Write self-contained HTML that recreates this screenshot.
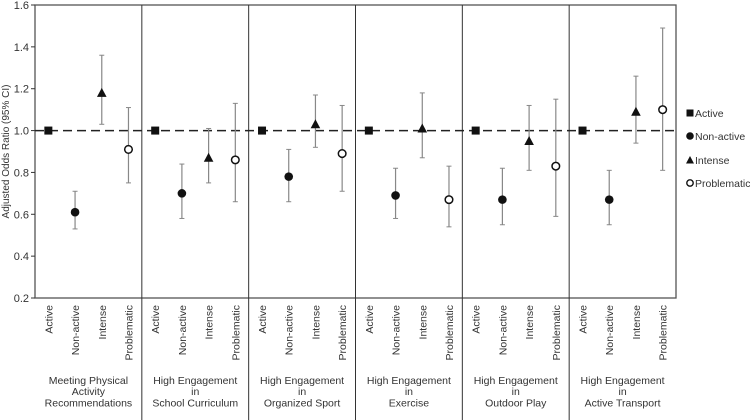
<!DOCTYPE html>
<html><head><meta charset="utf-8"><style>
body{margin:0;background:#fff;}
svg{display:block;font-family:"Liberation Sans",Arial,sans-serif;}
</style></head><body>
<svg id="chart" width="750" height="420" viewBox="0 0 750 420"></svg>
<script>
const groups=[["Meeting Physical","Activity","Recommendations"],["High Engagement","in","School Curriculum"],["High Engagement","in","Organized Sport"],["High Engagement","in","Exercise"],["High Engagement","in","Outdoor Play"],["High Engagement","in","Active Transport"]];
const categories=["Active","Non-active","Intense","Problematic"];
const activeOR=[1,1,1,1,1,1];
const nonActiveOR=[0.61,0.70,0.78,0.69,0.67,0.67];
const nonActiveLo=[0.53,0.58,0.66,0.58,0.55,0.55];
const nonActiveHi=[0.71,0.84,0.91,0.82,0.82,0.81];
const intenseOR=[1.18,0.87,1.03,1.01,0.95,1.09];
const intenseLo=[1.03,0.75,0.92,0.87,0.81,0.94];
const intenseHi=[1.36,1.01,1.17,1.18,1.12,1.26];
const probOR=[0.91,0.86,0.89,0.67,0.83,1.10];
const probLo=[0.75,0.66,0.71,0.54,0.59,0.81];
const probHi=[1.11,1.13,1.12,0.83,1.15,1.49];
const yTicks=[0.2,0.4,0.6,0.8,1.0,1.2,1.4,1.6];

const svg=document.getElementById('chart');
const NS='http://www.w3.org/2000/svg';
const L=35,R=676,T=5,B=298,yMin=0.2,yMax=1.6;
const gw=(R-L)/groups.length;
function y(v){return B-(v-yMin)/(yMax-yMin)*(B-T);}
function x(g,i){return L+g*gw+(i+0.5)*gw/4;}
function el(tag,attrs,parent){const e=document.createElementNS(NS,tag);for(const k in attrs)e.setAttribute(k,attrs[k]);(parent||svg).appendChild(e);return e;}
function txt(s,attrs){const t=el('text',attrs);t.textContent=s;return t;}

let f=el('rect',{x:L,y:T,width:R-L,height:B-T,fill:'none',stroke:'#555','stroke-width':1.3});

yTicks.forEach(v=>{
  let tk=el('line',{x1:L-4,x2:L,y1:y(v),y2:y(v),stroke:'#333'});
  
  let t=txt(v.toFixed(1),{x:L-6,y:y(v)+4,'text-anchor':'end','font-size':11,fill:'#333'});
  
});
let yt=txt('Adjusted Odds Ratio (95% CI)',{x:9,y:(T+B)/2,'text-anchor':'middle','font-size':10,fill:'#333',transform:`rotate(-90 9 ${(T+B)/2})`});

for(let g=1;g<groups.length;g++){
  let d=el('line',{x1:L+g*gw,x2:L+g*gw,y1:T,y2:420,stroke:'#333','stroke-width':1});
  
}
let rl=el('line',{x1:L,x2:R,y1:y(1),y2:y(1),stroke:'#222','stroke-width':1.5,'stroke-dasharray':'9,5'});


function errbar(cx,lo,hi){
  let e=el('g',{});
  
  el('line',{x1:cx,x2:cx,y1:y(lo),y2:y(hi),stroke:'#888','stroke-width':1.2},e);
  el('line',{x1:cx-2.5,x2:cx+2.5,y1:y(lo),y2:y(lo),stroke:'#888'},e);
  el('line',{x1:cx-2.5,x2:cx+2.5,y1:y(hi),y2:y(hi),stroke:'#888'},e);
}
groups.forEach((lines,g)=>{
  categories.forEach((c,i)=>{
    const cx=x(g,i);
    let t=txt(c,{x:cx+4,y:305,'text-anchor':'end','font-size':10.5,fill:'#333',transform:`rotate(-90 ${cx+4} 305)`});
    
  });
  lines.forEach((s,k)=>{
    let t=txt(s,{x:L+(g+0.5)*gw,y:384+k*11.2,'text-anchor':'middle','font-size':10.5,fill:'#333'});
    
  });
  let sq=el('rect',{x:x(g,0)-4,y:y(activeOR[g])-4,width:8,height:8,fill:'#111'});
  
  errbar(x(g,1),nonActiveLo[g],nonActiveHi[g]);
  let c=el('circle',{cx:x(g,1),cy:y(nonActiveOR[g]),r:4.3,fill:'#111'});
  
  errbar(x(g,2),intenseLo[g],intenseHi[g]);
  const ix=x(g,2),iy=y(intenseOR[g]);
  let tr=el('polygon',{points:`${ix},${iy-5} ${ix-4.8},${iy+4} ${ix+4.8},${iy+4}`,fill:'#111'});
  
  errbar(x(g,3),probLo[g],probHi[g]);
  let pc=el('circle',{cx:x(g,3),cy:y(probOR[g]),r:3.8,fill:'#fff',stroke:'#111','stroke-width':1.5});
  
});
const lx=690;
[[113,'sq','Active'],[136,'c','Non-active'],[160,'t','Intense'],[183,'o','Problematic']].forEach(([ly,m,s])=>{
  let g=el('g',{});
  
  if(m==='sq')el('rect',{x:lx-3.5,y:ly-3.5,width:7,height:7,fill:'#111'},g);
  if(m==='c')el('circle',{cx:lx,cy:ly,r:3.8,fill:'#111'},g);
  if(m==='t')el('polygon',{points:`${lx},${ly-4} ${lx-4},${ly+3.5} ${lx+4},${ly+3.5}`,fill:'#111'},g);
  if(m==='o')el('circle',{cx:lx,cy:ly,r:3.2,fill:'#fff',stroke:'#111','stroke-width':1.4},g);
  const t=el('text',{x:lx+5,y:ly+4,'font-size':10.5,fill:'#333'},g);t.textContent=s;
});
</script>
</body></html>
